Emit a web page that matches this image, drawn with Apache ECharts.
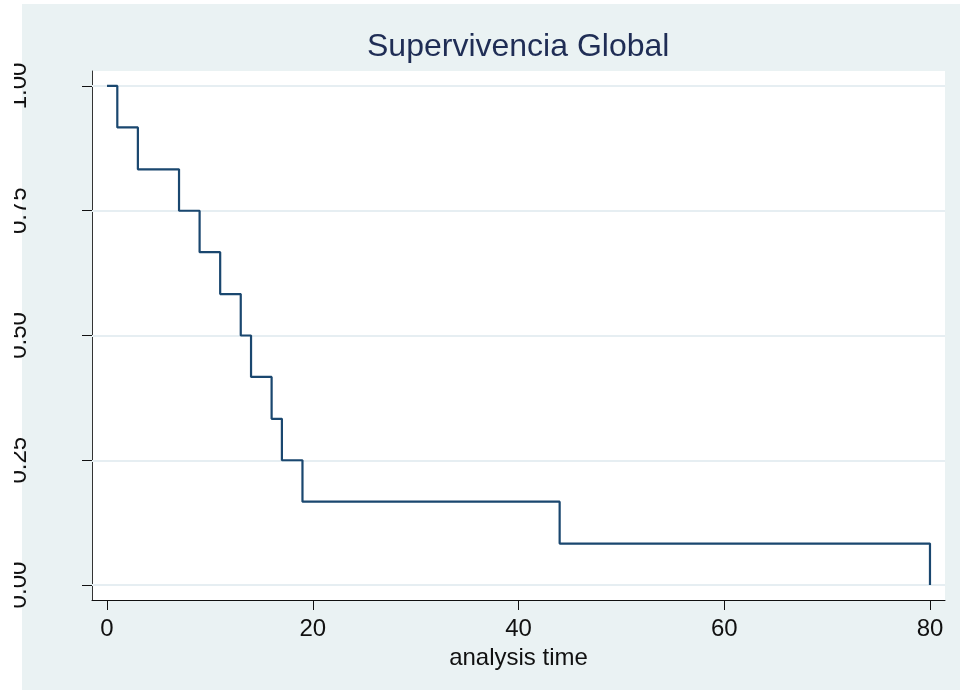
<!DOCTYPE html>
<html>
<head>
<meta charset="utf-8">
<script src="https://cdn.jsdelivr.net/npm/echarts@6/dist/echarts.min.js"></script>
<style>
  html, body { margin: 0; padding: 0; background: #fff; overflow: hidden; }
  #bg { position: absolute; left: 22px; top: 4px; width: 938px; height: 686px; background: #eaf2f3; }
  #km { position: absolute; left: 14px; top: 0; width: 946px; height: 691px; }
</style>
</head>
<body>
<div id="bg"></div>
<div id="km"></div>
<script>
// Kaplan-Meier estimate
var times = [0, 1, 3, 7, 9, 11, 13, 14, 16, 17, 19, 44, 80];
var surv = [1.000, 0.917, 0.833, 0.750, 0.667, 0.583, 0.500, 0.417, 0.333, 0.250, 0.167, 0.083, 0.000];
var xTicks = [0, 20, 40, 60, 80];
var yTicks = [0, 0.25, 0.5, 0.75, 1];

var myChart = echarts.init(document.getElementById('km'));
var option = {
  animation: false,
  title: {
    text: 'Supervivencia Global',
    left: 353,
    top: 31,
    padding: 0,
    textStyle: {
      fontFamily: 'Liberation Sans',
      fontSize: 32,
      fontWeight: 'normal',
      color: '#1f2d55',
      lineHeight: 32
    }
  },
  grid: {
    left: 78,
    right: 15,
    top: 71,
    bottom: 91,
    containLabel: false,
    outerBoundsMode: 'none',
    show: true,
    backgroundColor: '#ffffff',
    borderWidth: 0
  },
  xAxis: {
    type: 'value',
    min: -1.46,
    max: 81.46,
    name: 'analysis time',
    nameLocation: 'middle',
    nameGap: 39,
    nameTextStyle: { fontFamily: 'Liberation Sans', fontSize: 24, color: '#111', lineHeight: 24 },
    axisLine: { onZero: false, lineStyle: { color: '#111', width: 1 } },
    axisTick: { show: true, length: 10, customValues: xTicks, lineStyle: { color: '#111' } },
    axisLabel: {
      customValues: xTicks,
      margin: 17,
      fontFamily: 'Liberation Sans',
      fontSize: 24,
      lineHeight: 24,
      color: '#111'
    },
    splitLine: { show: false }
  },
  yAxis: {
    type: 'value',
    min: -0.03,
    max: 1.03,
    axisLine: { show: true, onZero: false, lineStyle: { color: '#333', width: 1 } },
    axisTick: { show: true, length: 10, customValues: yTicks, lineStyle: { color: '#111' } },
    axisLabel: {
      customValues: yTicks,
      rotate: 90,
      margin: 61,
      fontFamily: 'Liberation Sans',
      fontSize: 24,
      lineHeight: 24,
      color: '#111',
      formatter: function (v) { return v.toFixed(2); }
    },
    splitLine: { show: false }
  },
  series: [
    {
      // gridlines at the y ticks
      type: 'line',
      data: [],
      silent: true,
      z: 1,
      markLine: {
        silent: true,
        symbol: 'none',
        z: 1,
        label: { show: false },
        lineStyle: { color: '#e6eef2', width: 2, type: 'solid' },
        data: yTicks.map(function (v) { return { yAxis: v }; })
      }
    },
    {
      name: 'S(t)',
      type: 'line',
      step: 'end',
      showSymbol: false,
      z: 5,
      lineStyle: { color: '#1a476f', width: 2.2 },
      data: times.map(function (t, i) { return [t, surv[i]]; })
    }
  ]
};
option && myChart.setOption(option);
</script>
</body>
</html>
